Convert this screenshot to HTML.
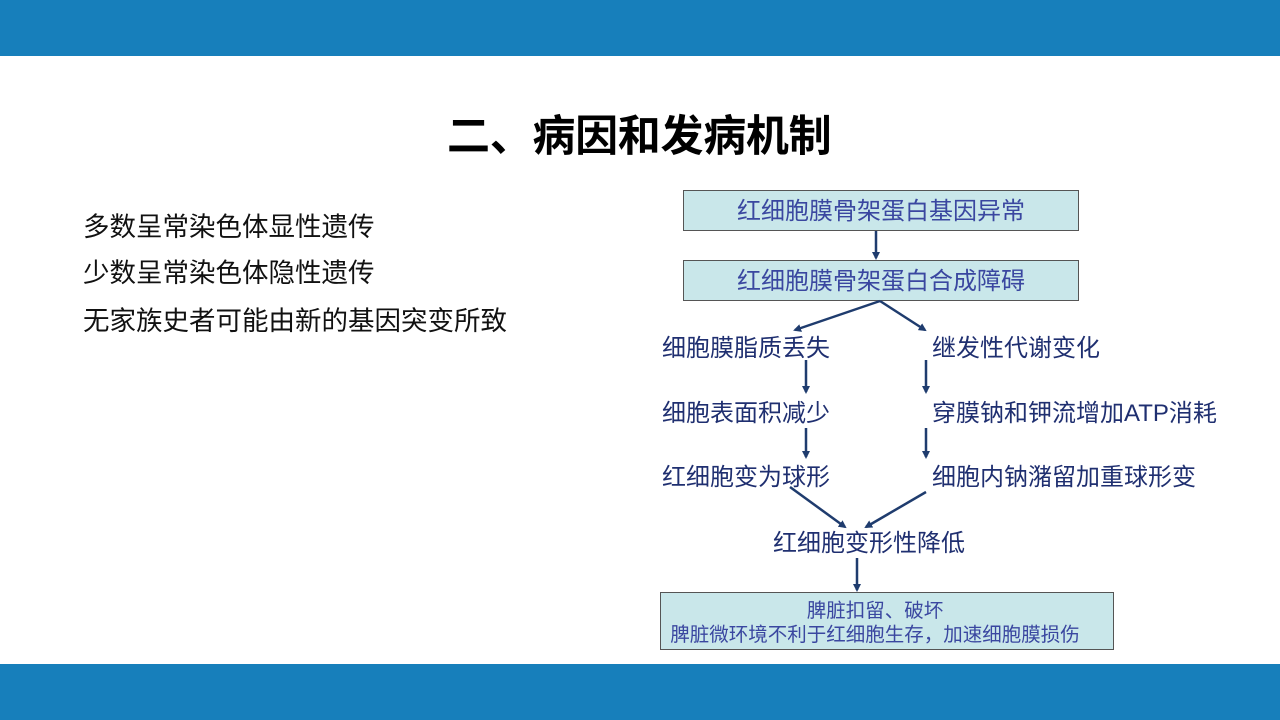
<!DOCTYPE html>
<html><head><meta charset="utf-8"><style>
body{margin:0;width:1280px;height:720px;position:relative;background:#fff;overflow:hidden;font-family:"Liberation Sans","Noto Sans CJK SC",sans-serif}
.band{position:absolute;left:0;width:1280px;background:#177fbb}
.t{position:absolute;white-space:nowrap;line-height:1}
.box{position:absolute;background:#c9e7ea;border:1.5px solid #555;box-sizing:border-box;text-align:center;color:#3a47a0}
.f{color:#1f2f70;font-size:24px}
</style></head><body>
<div class="band" style="top:0;height:56px"></div>
<div class="band" style="top:664px;height:56px"></div>
<div class="t" style="left:447px;top:116px;font-size:43px;font-weight:bold;color:#000;letter-spacing:-0.3px">二、病因和发病机制</div>
<div class="t" style="left:83px;top:214px;font-size:26.5px;color:#111">多数呈常染色体显性遗传</div>
<div class="t" style="left:83px;top:260px;font-size:26.5px;color:#111">少数呈常染色体隐性遗传</div>
<div class="t" style="left:83px;top:308px;font-size:26.5px;color:#111">无家族史者可能由新的基因突变所致</div>

<div class="box" style="left:683px;top:190px;width:396px;height:41px;font-size:24px;line-height:41px">红细胞膜骨架蛋白基因异常</div>
<div class="box" style="left:683px;top:260px;width:396px;height:41px;font-size:24px;line-height:41px">红细胞膜骨架蛋白合成障碍</div>
<div class="t f" style="left:662px;top:337px">细胞膜脂质丢失</div>
<div class="t f" style="left:932px;top:337px">继发性代谢变化</div>
<div class="t f" style="left:662px;top:402px">细胞表面积减少</div>
<div class="t f" style="left:932px;top:402px">穿膜钠和钾流增加ATP消耗</div>
<div class="t f" style="left:662px;top:466px">红细胞变为球形</div>
<div class="t f" style="left:932px;top:466px">细胞内钠潴留加重球形变</div>
<div class="t f" style="left:773px;top:532px">红细胞变形性降低</div>
<div class="box" style="left:660px;top:592px;width:454px;height:58px;font-size:19.5px;line-height:24px;padding-top:6px;padding-right:24px">脾脏扣留、破坏<br>脾脏微环境不利于红细胞生存，加速细胞膜损伤</div>

<svg width="1280" height="720" style="position:absolute;left:0;top:0">
<defs><marker id="a" markerWidth="8" markerHeight="8" refX="6" refY="4" orient="auto" markerUnits="userSpaceOnUse"><path d="M0,0 L8,4 L0,8 z" fill="#1f3c6e"/></marker></defs>
<g stroke="#1f3c6e" stroke-width="2.5" fill="none" marker-end="url(#a)">
<line x1="876" y1="231" x2="876" y2="258"/>
<line x1="880" y1="301" x2="795" y2="330"/>
<line x1="880" y1="301" x2="925" y2="330"/>
<line x1="806" y1="360" x2="806" y2="392"/>
<line x1="926" y1="360" x2="926" y2="392"/>
<line x1="806" y1="428" x2="806" y2="457"/>
<line x1="926" y1="428" x2="926" y2="457"/>
<line x1="790" y1="487" x2="845" y2="527"/>
<line x1="926" y1="492" x2="866" y2="527"/>
<line x1="857" y1="558" x2="857" y2="590"/>
</g>
</svg>
</body></html>
